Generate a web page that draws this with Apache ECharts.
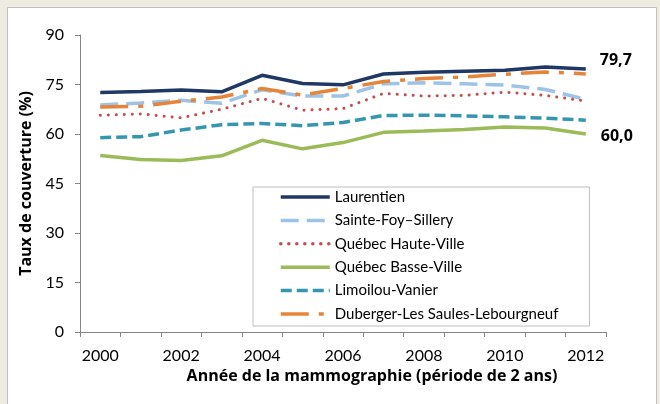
<!DOCTYPE html>
<html><head><meta charset="utf-8">
<script src="https://cdn.jsdelivr.net/npm/echarts@6/dist/echarts.min.js"></script>
<style>html,body{margin:0;padding:0;background:#EEEBE0}#c{width:660px;height:404px}</style>
</head><body><div id="c"></div>
<script>
const years = ['2000','2001','2002','2003','2004','2005','2006','2007','2008','2009','2010','2011','2012'];
const laurentien   = [72.6, 72.9, 73.3, 72.8, 77.8, 75.3, 74.9, 78.2, 78.7, 79.0, 79.3, 80.3, 79.7];
const sainteFoy    = [68.8, 69.4, 70.2, 69.3, 73.4, 71.5, 71.5, 75.2, 75.5, 75.2, 74.8, 73.5, 70.5];
const hauteVille   = [65.7, 66.1, 64.9, 67.5, 70.8, 67.2, 67.7, 72.3, 71.5, 71.7, 72.7, 71.7, 70.0];
const basseVille   = [53.5, 52.3, 52.0, 53.4, 58.1, 55.5, 57.4, 60.5, 60.9, 61.4, 62.1, 61.8, 60.0];
const limoilou     = [58.9, 59.2, 61.2, 62.8, 63.2, 62.5, 63.5, 65.6, 65.7, 65.5, 65.2, 64.8, 64.2];
const duberger     = [68.2, 68.4, 69.9, 71.2, 73.8, 71.8, 73.8, 75.9, 76.8, 77.3, 78.1, 78.8, 78.2];
const yTicks = [0, 15, 30, 45, 60, 75, 90];

const FONT = 'Lato';
const BFONT = 'Open Sans';
const chart = echarts.init(document.getElementById('c'));
function endLbl(offset){
  return {show:true, offset:offset, fontFamily:BFONT, fontSize:16, fontWeight:'bold', color:'#000',
    formatter: p => Number(p.value).toFixed(1).replace('.', ',')};
}
function s(name, data, color, width, type, extra){
  return Object.assign({name, type:'line', data, symbol:'none', smooth:false, animation:false,
    lineStyle:{color, width, type, cap: extra && extra.cap || 'butt'},
    itemStyle:{color}}, extra && extra.series || {});
}
chart.setOption({
  animation:false,
  backgroundColor:'#EEEBE0',
  graphic:[{type:'rect', z:-10, silent:true, shape:{x:7.5, y:7.5, width:649, height:410},
    style:{fill:'#fff', stroke:'#BFBFBF', lineWidth:1}}],
  grid:{left:80, right:54, top:35, bottom:72},
  xAxis:{type:'category', data:years, boundaryGap:true,
    axisLine:{lineStyle:{color:'#868686', width:1}},
    axisTick:{show:true, length:5, interval:0, lineStyle:{color:'#868686'}},
    axisLabel:{interval:1, margin:16, fontFamily:FONT, fontSize:16, color:'#000'},
    name:'Année de la mammographie (période de 2 ans)', nameLocation:'middle', nameGap:36,
    nameTextStyle:{fontFamily:BFONT, fontSize:16, fontWeight:'bold', color:'#000', padding:[0,0,0,58]}},
  yAxis:{type:'value', min:yTicks[0], max:yTicks[yTicks.length-1], interval:15,
    splitLine:{show:false},
    axisLine:{show:true, lineStyle:{color:'#868686', width:1}},
    axisTick:{show:true, length:5, lineStyle:{color:'#868686'}},
    axisLabel:{margin:16, fontFamily:FONT, fontSize:16, color:'#000'},
    name:'Taux de couverture (%)', nameLocation:'middle', nameGap:42,
    nameTextStyle:{fontFamily:BFONT, fontSize:16, fontWeight:'bold', color:'#000'}},
  legend:{orient:'vertical', left:253, top:187, itemWidth:49, itemHeight:14, itemGap:5.4,
    padding:[1,31,3,26], backgroundColor:'#fff', borderColor:'#BFBFBF', borderWidth:1, borderRadius:0,
    itemStyle:{opacity:0},
    lineStyle:{width:3.5},
    textStyle:{fontFamily:FONT, fontSize:15, color:'#000', lineHeight:18},
    data:['Laurentien','Sainte-Foy–Sillery','Québec Haute-Ville','Québec Basse-Ville','Limoilou-Vanier','Duberger-Les Saules-Lebourgneuf']},
  series:[
    s('Laurentien', laurentien, '#1F3864', 3.5, 'solid', {series:{endLabel:endLbl([6,-9])}}),
    s('Sainte-Foy–Sillery', sainteFoy, '#9DC3E6', 3.5, [18,8]),
    s('Québec Haute-Ville', hauteVille, '#C0504D', 3, [0.1,7.9], {cap:'round'}),
    s('Québec Basse-Ville', basseVille, '#9BBB59', 3.5, 'solid', {series:{endLabel:endLbl([7,2])}}),
    s('Limoilou-Vanier', limoilou, '#3596B0', 3.5, [11,5]),
    s('Duberger-Les Saules-Lebourgneuf', duberger, '#E6843A', 3.5, [28,10,5,10])
  ]
});
</script></body></html>
